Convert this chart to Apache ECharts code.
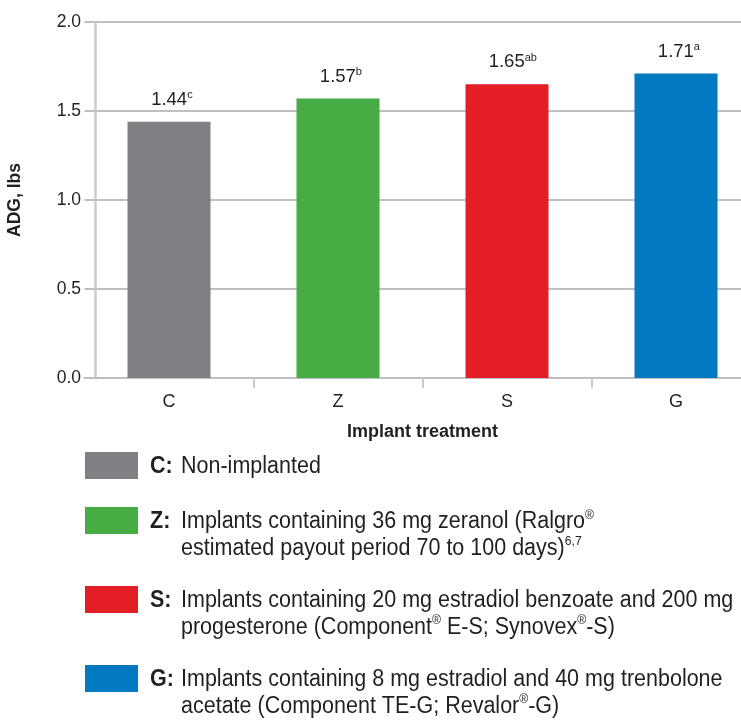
<!DOCTYPE html>
<html>
<head>
<meta charset="utf-8">
<script src="https://cdn.jsdelivr.net/npm/echarts@6/dist/echarts.min.js"></script>
<style>
  html, body { margin: 0; padding: 0; background: #ffffff; }
  #chart { width: 741px; height: 722px; }
</style>
</head>
<body>
<div id="chart"></div>
<script>
// Average daily gain by implant treatment
const categories = ['C', 'Z', 'S', 'G'];
const adgValues = [1.44, 1.57, 1.65, 1.71];
const significance = ['c', 'b', 'ab', 'a'];
const barColors = ['#808084', '#46ac43', '#e31e25', '#0079c1'];
const yMin = 0, yMax = 2, yStep = 0.5;

// Legend entries: key, then one or two lines of description ({r|...} = superscript)
const legendKeys = ['C:', 'Z:', 'S:', 'G:'];
const legendLines = [
  ['Non-implanted'],
  ['Implants containing 36 mg zeranol (Ralgro{r|®}',
   'estimated payout period 70 to 100 days){r|6,7}'],
  ['Implants containing 20 mg estradiol benzoate and 200 mg',
   'progesterone (Component{r|®} E-S; Synovex{r|®}-S)'],
  ['Implants containing 8 mg estradiol and 40 mg trenbolone',
   'acetate (Component TE-G; Revalor{r|®}-G)']
];

const SANS = "'Liberation Sans', Arial, Helvetica, sans-serif";
const TEXT = '#231f20';
const GRID_LINE = '#bfbfc3';
const AXIS_LINE = '#cbcbce';

const chart = echarts.init(document.getElementById('chart'));

// Legend block: swatch, bold key, condensed description
const legendTop = [452, 507, 586, 665];
const swatchW = 53, swatchH = 27;
const lineH = 26.5;
const condense = 0.935;
const graphic = [];
legendKeys.forEach((key, i) => {
  const y = legendTop[i];
  const textTop = y + swatchH / 2 + 1.5 - lineH / 2;
  graphic.push({
    type: 'rect', x: 85, y: y,
    shape: { x: 0, y: 0, width: swatchW, height: swatchH },
    style: { fill: barColors[i] }
  });
  graphic.push({
    type: 'text', x: 150, y: textTop, scaleX: condense,
    style: {
      x: 0, y: 0, text: key, fill: TEXT,
      font: 'bold 23px ' + SANS,
      lineHeight: lineH, verticalAlign: 'top', align: 'left'
    }
  });
  graphic.push({
    type: 'text', x: 181, y: textTop, scaleX: condense,
    style: {
      x: 0, y: 0,
      text: legendLines[i].join('\n'),
      font: '23px ' + SANS,
      fill: TEXT,
      lineHeight: lineH, verticalAlign: 'top', align: 'left',
      rich: {
        r: { fontSize: 13, fontFamily: SANS, fill: TEXT, verticalAlign: 'top', lineHeight: lineH }
      }
    }
  });
});

chart.setOption({
  animation: false,
  backgroundColor: '#ffffff',
  grid: {
    left: 84.5, top: 22, width: 676, height: 356,
    containLabel: false, outerBoundsMode: 'none'
  },
  xAxis: {
    type: 'category',
    data: categories,
    name: 'Implant treatment',
    nameLocation: 'middle',
    nameGap: 45,
    nameTextStyle: { fontFamily: SANS, fontWeight: 'bold', fontSize: 18, color: TEXT },
    axisLine: { show: true, lineStyle: { color: GRID_LINE, width: 2 } },
    axisTick: {
      show: true, length: 10, lineStyle: { color: AXIS_LINE, width: 2 },
      interval: (idx) => idx > 0
    },
    axisLabel: { fontFamily: SANS, fontSize: 18, color: TEXT, margin: 15 }
  },
  yAxis: {
    type: 'value',
    min: yMin, max: yMax, interval: yStep,
    offset: -10.5,
    name: 'ADG, lbs',
    nameLocation: 'middle',
    nameRotate: 90,
    nameGap: 71,
    nameTextStyle: { fontFamily: SANS, fontWeight: 'bold', fontSize: 17.5, color: TEXT },
    axisLine: { show: true, lineStyle: { color: AXIS_LINE, width: 2.5 } },
    axisTick: { show: true, length: 9, lineStyle: { color: GRID_LINE, width: 2 } },
    axisLabel: {
      fontFamily: SANS, fontSize: 17.5, color: TEXT, margin: 14,
      formatter: (v) => v.toFixed(1)
    },
    splitLine: { show: true, lineStyle: { color: GRID_LINE, width: 2 } }
  },
  series: [{
    type: 'bar',
    barWidth: 83,
    data: adgValues.map((v, i) => ({
      value: v,
      itemStyle: { color: barColors[i] },
      label: { offset: [significance[i].length * 2.9, 0] }
    })),
    label: {
      show: true,
      position: 'top',
      distance: 12,
      formatter: (p) => '{v|' + p.value.toFixed(2) + '}{s|' + significance[p.dataIndex] + '}',
      rich: {
        v: { fontFamily: SANS, fontSize: 18.5, color: TEXT, lineHeight: 20 },
        s: { fontFamily: SANS, fontSize: 11, color: TEXT, verticalAlign: 'top', lineHeight: 20 }
      }
    }
  }],
  graphic: graphic
});
</script>
</body>
</html>
